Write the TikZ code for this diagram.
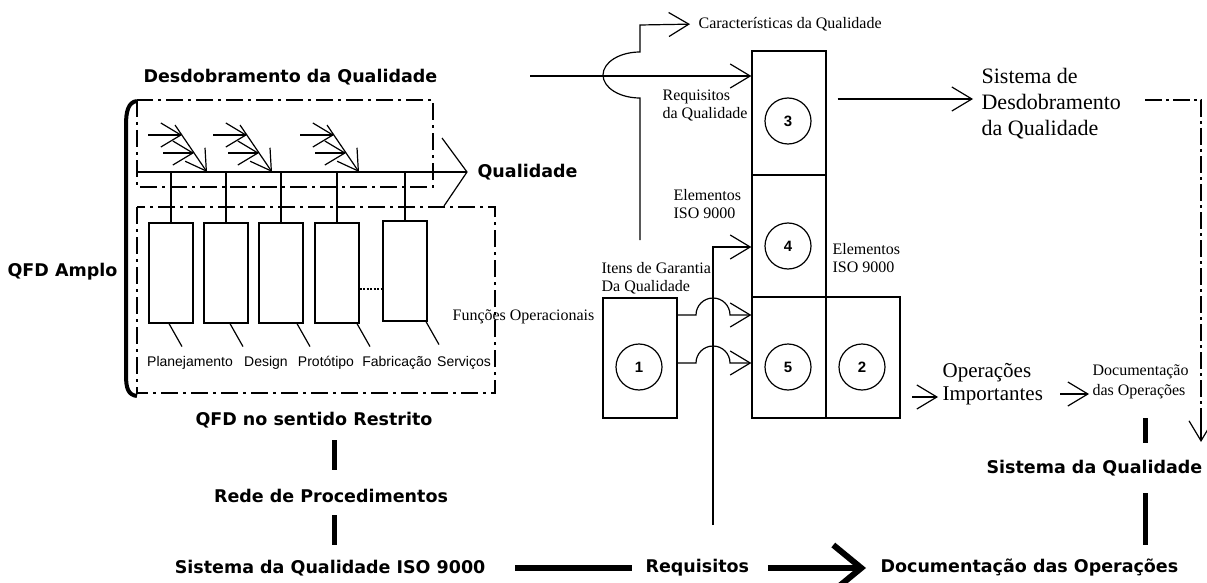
\documentclass[tikz,border=0pt]{standalone}
\usepackage{fontspec}
\setmainfont{Liberation Serif}
\setsansfont{Liberation Sans}
\newfontfamily\dejavu{DejaVu Sans}
\usetikzlibrary{arrows.meta}

\begin{document}
\begin{tikzpicture}[x=1pt, y=-1pt, line width=1.2pt,
  bigbold/.style={font=\dejavu\bfseries\fontsize{17.5}{21}\selectfont, inner sep=0pt},
  phase/.style={font=\sffamily\fontsize{14}{16}\selectfont, inner sep=0pt},
  note/.style={font=\fontsize{16}{18}\selectfont, align=left, inner sep=0pt, anchor=west},
  bignote/.style={font=\fontsize{21}{23}\selectfont, align=left, inner sep=0pt, anchor=west},
  funcbox/.style={draw, minimum width=44pt, minimum height=100pt, inner sep=0pt},
  cell/.style={draw, minimum width=74pt, inner sep=0pt},
  numcirc/.style={circle, draw, minimum size=46pt, inner sep=0pt, font=\sffamily\bfseries\fontsize{15}{15}\selectfont},
  qfddash/.style={line width=2.5pt, dash pattern=on 17pt off 5pt on 3pt off 5pt},
  barb/.style={-{Straight Barb[length=20pt,width=24pt]}},
  heavy/.style={line width=5pt},
]
\useasboundingbox (0,0) rectangle (1207,583);

% Quality deployment (fishbone)
\node[bigbold, anchor=west] (desd) at (143,77) {Desdobramento da Qualidade};
\draw[qfddash] (137,100) rectangle (433,187);
\draw[qfddash] (137,207) rectangle (495,393);

% Bracket
\draw[line width=4pt] (137,101) .. controls (128,102) and (126,112) .. (126,125) -- (126,375) .. controls (126,388) and (128,395) .. (137,396);
\node[bigbold, anchor=west] (qfda) at (7,272) {QFD Amplo};

% Spine
\coordinate (spine) at (137,172);
\coordinate (spinetip) at (467,172);
\draw (spine) -- (spinetip);
\draw (442,138) -- (spinetip) -- (444,206);
\node[bigbold, anchor=west] (qual) at (477,172) {Qualidade};

% Bones
\foreach \dx in {0,65,152} {
  \draw[barb] (175+\dx,125) -- (207+\dx,172);
  \draw[barb] (148+\dx,135) -- (182+\dx,135);
  \draw[barb] (163+\dx,153) -- (194+\dx,153);
}

% Operational functions
\node[funcbox] (f1) at (171,273) {};
\node[funcbox] (f2) at (226,273) {};
\node[funcbox] (f3) at (281,273) {};
\node[funcbox] (f4) at (337,273) {};
\node[funcbox] (f5) at (405,271) {};
\foreach \b in {f1,f2,f3,f4,f5}
  \draw (\b.north) -- (\b.north |- spine);
\draw[line width=2pt, dash pattern=on 2pt off 1.5pt] (f4.east |- 0,289) -- (f5.west |- 0,289);
\foreach \b/\s in {f1/-2,f2/4,f3/16,f4/20,f5/21}
  \draw ([xshift=\s pt]\b.south) -- ++(13,23);
\foreach \t/\x in {Planejamento/190,Design/266,Protótipo/326,Fabricação/397,Serviços/464}
  \node[phase] (ph\x) at (\x,363) {\t};

% Left chain
\node[bigbold] (qfdr) at (314,420) {QFD no sentido Restrito};
\node[bigbold] (rede) at (331,496) {Rede de Procedimentos};
\draw[heavy] (334,440) -- (334,470);
\draw[heavy] (334,515) -- (334,545);

% Bottom row
\node[bigbold, anchor=east] (sisiso) at (486,568) {Sistema da Qualidade ISO 9000};
\node[bigbold, anchor=west] (req) at (645,568) {Requisitos};
\node[bigbold, anchor=west] (docop) at (880,568) {Documentação das Operações};
\draw[line width=6pt, shorten <=29pt, shorten >=13pt] (sisiso) -- (req);
\draw[line width=6pt, -{Straight Barb[length=28pt,width=46pt]}, shorten <=18pt, shorten >=14pt] (req) -- (docop);

% Quality system cells
\node[cell, minimum height=124pt] (b3) at (789,113) {};
\node[cell, minimum height=122pt] (b4) at (789,236) {};
\node[cell, minimum height=121pt] (b5) at (789,357.5) {};
\node[cell, minimum height=121pt] (b2) at (863,357.5) {};
\node[cell, minimum height=120pt] (b1) at (640,358) {};
\node[numcirc] (n3) at (788,121) {3};
\node[numcirc] (n4) at (788,246) {4};
\node[numcirc] (n5) at (788,367) {5};
\node[numcirc] (n2) at (862,367) {2};
\node[numcirc] (n1) at (639,367) {1};

% Labels
\node[note] (carac) at (698,24) {Características da Qualidade};
\node[note] (reqq) at (662,106) {Requisitos\\da Qualidade};
\node[note] (eleml) at (673,204) {Elementos\\ISO 9000};
\node[note] (elemr) at (832,258) {Elementos\\ISO 9000};
\node[note] (itens) at (601,278) {Itens de Garantia\\Da Qualidade};
\node[note] (funcs) at (452,317) {Funções Operacionais};
\node[bignote, font=\fontsize{22}{26}\selectfont] (sdq) at (981,104) {Sistema de\\Desdobramento\\da Qualidade};
\node[bignote] (opimp) at (942,384) {Operações\\Importantes};
\node[note, font=\fontsize{16}{20}\selectfont] (docum) at (1092,382) {Documentação\\das Operações};
\node[bigbold, anchor=west] (sisq) at (986,468) {Sistema da Qualidade};

% Flows
\coordinate (qin) at (530,76);
\draw[barb] (qin) -- (qin -| b3.west);
\coordinate (itq) at (640,240);
\draw[barb, shorten >=8pt] (itq) -- (640,98) arc[start angle=90, end angle=270, x radius=37, y radius=23] -- (640,25) -- (carac.west);
\coordinate (sdqin) at (973,99);
\draw[barb, shorten <=11pt] (b3.east |- sdqin) -- (sdqin);
\coordinate (elin) at (713,525);
\draw[barb] (elin) -- (713,247) -- (b4.west |- 0,247);
\foreach \yy in {315,363}
  \draw[barb] (b1.east |- 0,\yy) -- (696,\yy) arc[start angle=180, end angle=360, radius=17] -- (b5.west |- 0,\yy);
\coordinate (opin) at (912,397);
\draw[barb, shorten >=4pt] (opin) -- (opimp.west |- opin);
\coordinate (docin) at (1060,394);
\draw[barb, shorten >=3pt] (docin) -- (docum.west |- docin);

% System feedback (dash-dot)
\coordinate (fbcorner) at (1201,100);
\coordinate (fbtip) at (1201,442);
\draw[line width=2.5pt, dash pattern=on 17pt off 4pt on 3pt off 4pt] (1145,100) -- (fbcorner) -- (1201,425);
\draw[barb] (1201,420) -- (fbtip);
\draw[heavy] (1145,418) -- (1145,443);
\draw[heavy] (1145,493) -- (1145,545);

\end{tikzpicture}
\end{document}
